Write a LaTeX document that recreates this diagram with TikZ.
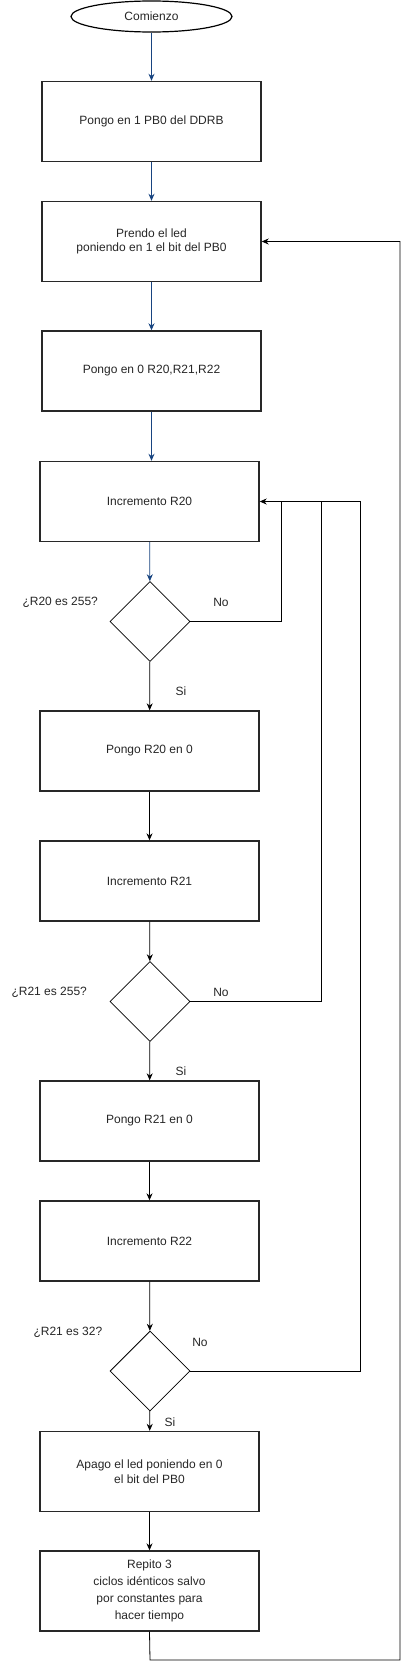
\documentclass[tikz,border=0pt]{standalone}
\usepackage{fontspec}
\setmainfont{Liberation Sans}
\usetikzlibrary{shapes.geometric,arrows.meta}

\definecolor{flowBlue}{RGB}{24,68,128}
\definecolor{edgeGray}{RGB}{40,40,40}

\begin{document}
\begin{tikzpicture}[
    x=1pt, y=-1pt,
    every node/.style={font=\fontsize{12}{14.4}\selectfont, text=black!85},
    procbox/.style={draw=edgeGray, line width=1.4pt, minimum width=219pt,
                    minimum height=80pt, align=center, inner sep=2pt},
    startnode/.style={draw=black, ellipse, line width=1.2pt,
                      minimum width=161pt, minimum height=31pt},
    decnode/.style={draw=black, diamond, aspect=1, line width=0.8pt,
                    minimum size=80pt, inner sep=0pt},
    flow/.style={line width=0.8pt, draw=black, -{Stealth[length=7pt,width=6pt]}},
    blueflow/.style={flow, draw=flowBlue, -{Stealth[length=7pt,width=6pt,flowBlue]}},
    backline/.style={line width=0.8pt, draw=black}
  ]
  \useasboundingbox (0,0) rectangle (409,1670);

  % Start
  \node[startnode] (start) at (151.5,16.5) {Comienzo};

  % Setup
  \node[procbox] (pbddrb) at (151.5,121.5) {Pongo en 1 PB0 del DDRB};
  \node[procbox] (ledon) at (151.5,241.5) {Prendo el led\\poniendo en 1 el bit del PB0};
  \node[procbox] (clrregs) at (151.5,371) {Pongo en 0 R20,R21,R22};

  % Loop on R20
  \node[procbox] (incr20) at (149.5,501.5) {Incremento R20};
  \node[decnode] (q20) at (150,621.5) {};
  \node[anchor=west] (q20txt) at (19,602) {¿R20 es 255?};
  \node (no20) at (221,602) {No};
  \node (si20) at (181,691) {Si};

  % Loop on R21
  \node[procbox] (clr20) at (149.5,751) {Pongo R20 en 0};
  \node[procbox] (incr21) at (149.5,881) {Incremento R21};
  \node[decnode] (q21) at (150,1001.5) {};
  \node[anchor=west] (q21txt) at (8,992) {¿R21 es 255?};
  \node (no21) at (221,992) {No};
  \node (si21) at (181,1071) {Si};

  % Loop on R22
  \node[procbox] (clr21) at (149.5,1121) {Pongo R21 en 0};
  \node[procbox] (incr22) at (149.5,1241) {Incremento R22};
  \node[decnode] (q22) at (150,1371) {};
  \node[anchor=west] (q22txt) at (30,1332) {¿R21 es 32?};
  \node (no22) at (200,1342) {No};
  \node (si22) at (170,1422) {Si};

  % Led off and delay
  \node[procbox] (ledoff) at (149.5,1471.5) {Apago el led poniendo en 0\\el bit del PB0};
  \node[procbox] (delay) at (149.5,1591) {Repito 3\\[2.6pt]ciclos idénticos salvo\\[2.6pt]por constantes para\\[2.6pt]hacer tiempo};

  % Corners of the return lines
  \coordinate (ret20) at (281,501.5);
  \coordinate (ret21) at (321,501.5);
  \coordinate (ret22) at (360,501.5);
  \coordinate (retbot) at (150,1660);
  \coordinate (retright) at (400,1660);
  \coordinate (rettop) at (400,241.5);

  % Main flow
  \draw[blueflow] (start) -- (pbddrb);
  \draw[blueflow] (pbddrb) -- (ledon);
  \draw[blueflow] (ledon) -- (clrregs);
  \draw[blueflow] (clrregs) -- (clrregs.south |- incr20.north);
  \draw[blueflow] (incr20) -- (q20);
  \draw[flow] (q20) -- (clr20);
  \draw[flow] (clr20) -- (incr21);
  \draw[flow] (incr21) -- (q21);
  \draw[flow] (q21) -- (clr21);
  \draw[flow] (clr21) -- (incr22);
  \draw[flow] (incr22) -- (q22);
  \draw[flow] (q22) -- (ledoff);
  \draw[flow] (ledoff) -- (delay);

  % Return lines
  \draw[flow] (q20.east) -| (ret20) -- (incr20.east);
  \draw[backline] (q21.east) -| (ret21);
  \draw[backline] (q22.east) -| (ret22) -- (ret20);
  \draw[flow] (delay.south) -- (retbot) -- (retright) -- (rettop) -- (ledon.east);
\end{tikzpicture}
\end{document}
